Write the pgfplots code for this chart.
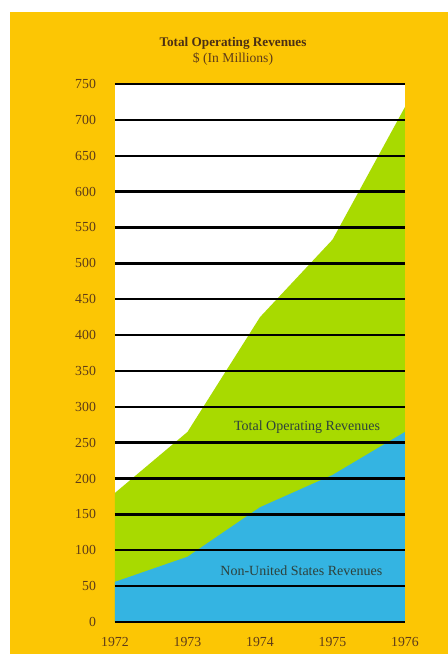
\documentclass[border=0pt]{standalone}
\usepackage{fontspec}
\setmainfont{Liberation Serif}
\usepackage{pgfplots}
\pgfplotsset{compat=1.18}
\definecolor{bgorange}{RGB}{252,198,4}
\definecolor{agreen}{RGB}{168,218,0}
\definecolor{ablue}{RGB}{52,180,226}
\definecolor{txtbrown}{RGB}{95,60,25}
\definecolor{txtlab}{RGB}{45,65,60}
\begin{document}
\begin{tikzpicture}
\fill[white] (0pt,0pt) rectangle (224pt,327pt);
\fill[bgorange] (5pt,0pt) rectangle (224pt,321pt);
\node[font=\bfseries\fontsize{6.6}{7}\selectfont, text=txtbrown!80!black] at (116.5pt,305.5pt) {Total Operating Revenues};
\node[font=\fontsize{6.8}{7}\selectfont, text=txtbrown] at (116.5pt,297.5pt) {\$ (In Millions)};
\begin{axis}[
  at={(57.5pt,16pt)}, anchor=south west,
  scale only axis, width=145pt, height=269pt,
  xmin=1972, xmax=1976, ymin=0, ymax=750,
  axis background/.style={fill=white},
  axis line style={draw=none},
  axis on top,
  ymajorgrids, major grid style={black, line width=1.2pt},
  ytick={0,50,...,750},
  xtick={1972,1973,1974,1975,1976},
  xticklabels={1972,1973,1974,1975,1976},
  major tick length=0pt,
  tick label style={font=\fontsize{6.9}{7}\selectfont, text=txtbrown},
  yticklabel style={xshift=-6pt},
  xticklabel style={yshift=-4pt},
  /pgf/number format/assume math mode=true,
  /pgf/number format/1000 sep={},
]
\addplot[fill=agreen, draw=none] coordinates {(1972,180) (1973,265) (1974,425) (1975,533) (1976,718)} \closedcycle;
\addplot[fill=ablue, draw=none] coordinates {(1972,56) (1973,91) (1974,160) (1975,205) (1976,265)} \closedcycle;
\node[font=\fontsize{7}{8}\selectfont, text=txtlab] at (axis cs:1974.65,272) {Total Operating Revenues};
\node[font=\fontsize{7}{8}\selectfont, text=txtlab] at (axis cs:1974.57,71) {Non-United States Revenues};
\end{axis}
\end{tikzpicture}
\end{document}
